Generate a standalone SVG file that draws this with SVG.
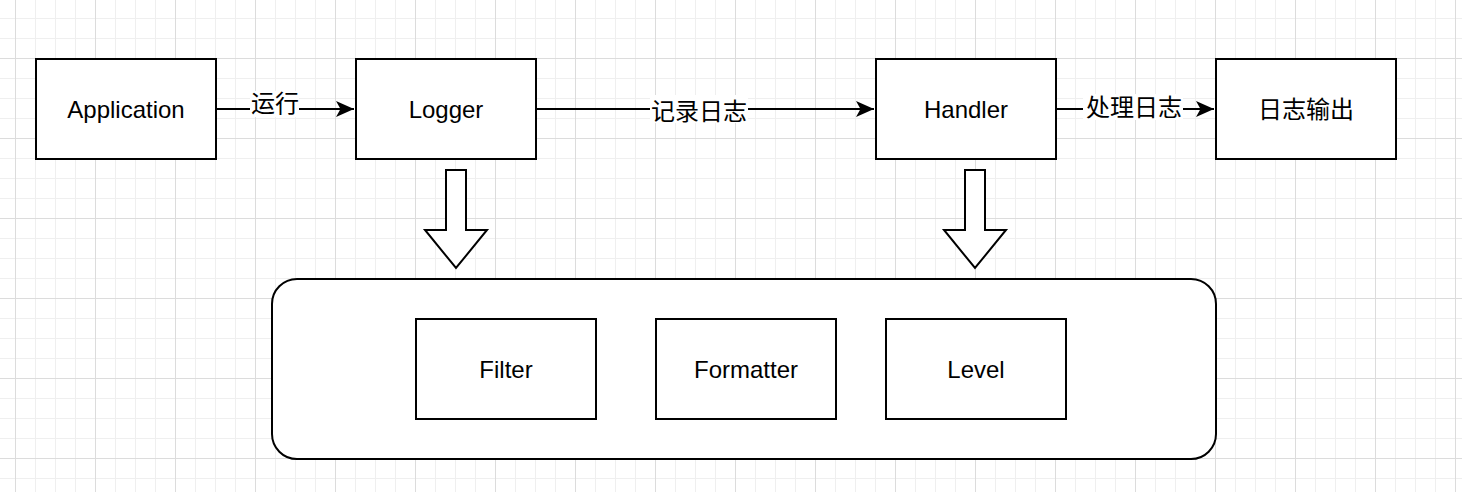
<svg xmlns="http://www.w3.org/2000/svg" width="1462" height="492" viewBox="0 0 1462 492">
<style>
.box{fill:#ffffff;stroke:#000000;stroke-width:2}
.t{font-family:"Liberation Sans","Noto Sans CJK SC",Arial,sans-serif;font-size:24px;fill:#000000;text-anchor:middle}
.c{font-family:"Noto Sans CJK SC","Liberation Sans",sans-serif;font-size:24px;fill:#000000;text-anchor:middle}
.edge{fill:none;stroke:#000000;stroke-width:2}
.lbg{fill:#ffffff}
</style>
<defs>
<pattern id="grid" x="15" y="58" width="80" height="80" patternUnits="userSpaceOnUse">
<path d="M20.5 0V80M40.5 0V80M60.5 0V80M0 20.5H80M0 40.5H80M0 60.5H80" stroke="#efefef" stroke-width="1" fill="none"/>
<path d="M0.5 0V80M0 0.5H80" stroke="#dcdcdc" stroke-width="1" fill="none"/>
</pattern>
<marker id="arr" markerWidth="20" markerHeight="20" viewBox="0 0 20 20" refX="18" refY="10" markerUnits="userSpaceOnUse" orient="auto">
<path d="M18,10 L0,2 L4.5,10 L0,18 Z" fill="#000000" stroke="none"/>
</marker>
</defs>
<rect x="0" y="0" width="1462" height="492" fill="#ffffff"/>
<rect x="0" y="0" width="1462" height="492" fill="url(#grid)"/>

<g id="container">
<rect class="box" x="272" y="279" width="944" height="180" rx="25" ry="25"/>
</g>

<g id="connectors">
<line class="edge" x1="216" y1="109" x2="354" y2="109" marker-end="url(#arr)"/>
<rect class="lbg" x="250" y="91" width="49" height="26"/>
<text class="c" x="275" y="112">运行</text>
<line class="edge" x1="536" y1="109" x2="874" y2="109" marker-end="url(#arr)"/>
<rect class="lbg" x="650" y="95" width="98" height="28"/>
<text class="c" x="699" y="119.5">记录日志</text>
<line class="edge" x1="1056" y1="109" x2="1214" y2="109" marker-end="url(#arr)"/>
<rect class="lbg" x="1083" y="94" width="100" height="26"/>
<text class="c" x="1134" y="115.5">处理日志</text>
</g>

<g id="arrow-logger">
<path class="box" d="M446,170 L466,170 L466,230 L487,230 L456,268 L425,230 L446,230 Z"/>
</g>
<g id="arrow-handler">
<path class="box" d="M965,170 L985,170 L985,230 L1006,230 L975,268 L944,230 L965,230 Z"/>
</g>

<g id="application">
<rect class="box" x="36" y="59" width="180" height="100"/>
<text class="t" x="126" y="117.6">Application</text>
</g>
<g id="logger">
<rect class="box" x="356" y="59" width="180" height="100"/>
<text class="t" x="446" y="117.6">Logger</text>
</g>
<g id="handler">
<rect class="box" x="876" y="59" width="180" height="100"/>
<text class="t" x="966" y="117.6">Handler</text>
</g>
<g id="output">
<rect class="box" x="1216" y="59" width="180" height="100"/>
<text class="c" x="1306" y="118">日志输出</text>
</g>
<g id="filter">
<rect class="box" x="416" y="319" width="180" height="100"/>
<text class="t" x="506" y="377.6">Filter</text>
</g>
<g id="formatter">
<rect class="box" x="656" y="319" width="180" height="100"/>
<text class="t" x="746" y="377.6">Formatter</text>
</g>
<g id="level">
<rect class="box" x="886" y="319" width="180" height="100"/>
<text class="t" x="976" y="377.6">Level</text>
</g>
</svg>
